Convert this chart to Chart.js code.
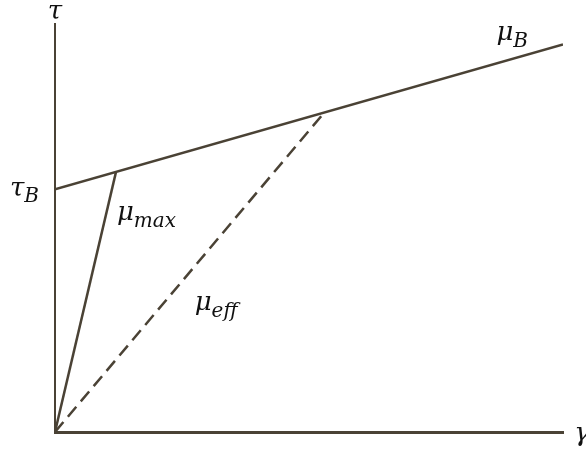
<!DOCTYPE html>
<html>
<head>
<meta charset="utf-8">
<script src="https://cdn.jsdelivr.net/npm/chart.js@4/dist/chart.umd.min.js"></script>
<style>
  html, body { margin: 0; padding: 0; background: #fff; }
  #wrap { width: 586px; height: 449px; position: relative; }
</style>
</head>
<body>
<div id="wrap"><canvas id="chart"></canvas></div>
<script>
// Bingham fluid: yield stress line, max and effective viscosity lines
const binghamX = [0, 10];
const binghamY = [5.95, 9.5];
const muMaxX = [0, 1.2];
const muMaxY = [0, 6.37];
const muEffX = [0, 5.24];
const muEffY = [0, 7.74];

const lineColor = "#4a4235";

function toPoints(xs, ys) {
  return xs.map((x, i) => ({ x: x, y: ys[i] }));
}

// Text labels, placed in data units
const labels = [
  { text: "τ", sub: "", x: 0, y: 10.3, anchor: "center" },
  { text: "τ", sub: "B", x: -0.6, y: 5.95, anchor: "center" },
  { text: "μ", sub: "B", x: 9.0, y: 9.77, anchor: "center" },
  { text: "μ", sub: "max", x: 1.22, y: 5.35, anchor: "left" },
  { text: "μ", sub: "eff", x: 2.75, y: 3.15, anchor: "left" },
  { text: "γ", sub: "", x: 10.22, y: -0.05, anchor: "left" }
];

const labelPlugin = {
  id: "labelPlugin",
  afterDraw(chart) {
    const ctx = chart.ctx;
    const xs = chart.scales.x;
    const ys = chart.scales.y;
    ctx.save();
    ctx.fillStyle = "#111";
    ctx.textBaseline = "middle";
    labels.forEach(l => {
      const px = xs.getPixelForValue(l.x);
      const py = ys.getPixelForValue(l.y);
      ctx.font = "italic 26px 'DejaVu Serif'";
      const w1 = ctx.measureText(l.text).width;
      ctx.font = "italic 20px 'DejaVu Serif'";
      const w2 = l.sub ? ctx.measureText(l.sub).width : 0;
      let start = px;
      if (l.anchor === "center") start = px - (w1 + w2) / 2;
      ctx.textAlign = "left";
      ctx.font = "italic 26px 'DejaVu Serif'";
      ctx.fillText(l.text, start, py);
      if (l.sub) {
        ctx.font = "italic 20px 'DejaVu Serif'";
        ctx.fillText(l.sub, start + w1, py + 8);
      }
    });
    ctx.restore();
  }
};

new Chart(document.getElementById("chart"), {
  type: "scatter",
  data: {
    datasets: [
      {
        data: toPoints(binghamX, binghamY),
        showLine: true,
        borderColor: lineColor,
        borderWidth: 2.5,
        pointRadius: 0
      },
      {
        data: toPoints(muMaxX, muMaxY),
        showLine: true,
        borderColor: lineColor,
        borderWidth: 2.5,
        pointRadius: 0
      },
      {
        data: toPoints(muEffX, muEffY),
        showLine: true,
        borderColor: lineColor,
        borderWidth: 2.5,
        borderDash: [13, 7],
        pointRadius: 0
      }
    ]
  },
  options: {
    responsive: true,
    maintainAspectRatio: false,
    animation: false,
    layout: { padding: { left: 55, right: 23, top: 24, bottom: 17 } },
    plugins: {
      legend: { display: false },
      tooltip: { enabled: false }
    },
    scales: {
      x: {
        min: 0,
        max: 10,
        ticks: { display: false },
        grid: { display: false, drawTicks: false },
        border: { display: true, color: lineColor, width: 3 }
      },
      y: {
        min: 0,
        max: 10,
        ticks: { display: false },
        grid: { display: false, drawTicks: false },
        border: { display: true, color: lineColor, width: 2 }
      }
    }
  },
  plugins: [labelPlugin]
});
</script>
</body>
</html>
